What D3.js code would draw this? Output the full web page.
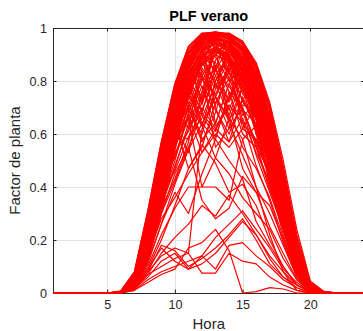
<!DOCTYPE html>
<html>
<head>
<meta charset="utf-8">
<script src="https://cdn.jsdelivr.net/npm/d3@7"></script>
<style>
  html, body { margin: 0; padding: 0; background: #fff; }
  svg { display: block; font-family: "Liberation Sans", Arial, Helvetica, sans-serif; }
</style>
</head>
<body>
<svg id="chart" width="363" height="331"></svg>
<script>
// Hours of the day (x categories)
const hours = [1,2,3,4,5,6,7,8,9,10,11,12,13,14,15,16,17,18,19,20,21,22,23,24];

// Tick values
const xTicks = [5, 10, 15, 20];
const yTicks = [0, 0.2, 0.4, 0.6, 0.8, 1];

// Daily plant-factor profiles, clear days
const clearDays = [
  [0,0,0,0,0,0.005,0.07,0.30,0.56,0.78,0.92,0.98,0.985,0.975,0.94,0.85,0.69,0.45,0.18,0.03,0.004,0,0,0],
  [0,0,0,0,0,0.004,0.065,0.28,0.54,0.77,0.91,0.975,0.985,0.97,0.93,0.83,0.67,0.43,0.16,0.025,0.003,0,0,0],
  [0,0,0,0,0,0.003,0.06,0.27,0.53,0.76,0.90,0.97,0.98,0.965,0.92,0.82,0.65,0.41,0.15,0.02,0.002,0,0,0],
  [0,0,0,0,0,0.003,0.055,0.26,0.52,0.75,0.90,0.965,0.98,0.96,0.91,0.81,0.64,0.40,0.14,0.02,0,0,0,0],
  [0,0,0,0,0,0.002,0.05,0.25,0.50,0.74,0.89,0.96,0.975,0.955,0.90,0.80,0.62,0.38,0.13,0.018,0,0,0,0],
  [0,0,0,0,0,0.002,0.05,0.24,0.49,0.73,0.88,0.955,0.97,0.95,0.89,0.78,0.61,0.37,0.13,0.016,0,0,0,0],
  [0,0,0,0,0,0,0.045,0.23,0.48,0.72,0.87,0.95,0.965,0.945,0.88,0.77,0.59,0.36,0.12,0.015,0,0,0,0],
  [0,0,0,0,0,0,0.045,0.22,0.47,0.70,0.86,0.94,0.96,0.94,0.87,0.76,0.58,0.35,0.12,0.014,0,0,0,0],
  [0,0,0,0,0,0,0.04,0.21,0.45,0.69,0.85,0.935,0.955,0.93,0.86,0.74,0.56,0.33,0.11,0.013,0,0,0,0],
  [0,0,0,0,0,0,0.04,0.20,0.44,0.68,0.84,0.93,0.95,0.925,0.85,0.73,0.55,0.32,0.10,0.012,0,0,0,0],
  [0,0,0,0,0,0,0.038,0.19,0.43,0.66,0.83,0.92,0.945,0.92,0.84,0.72,0.54,0.31,0.10,0.011,0,0,0,0],
  [0,0,0,0,0,0,0.035,0.18,0.41,0.65,0.82,0.91,0.94,0.91,0.83,0.70,0.52,0.30,0.09,0.01,0,0,0,0],
  [0,0,0,0,0,0,0.033,0.17,0.40,0.63,0.80,0.90,0.93,0.90,0.82,0.69,0.50,0.29,0.09,0.01,0,0,0,0],
  [0,0,0,0,0,0,0.03,0.16,0.38,0.61,0.79,0.89,0.92,0.89,0.81,0.67,0.48,0.27,0.08,0.008,0,0,0,0],
  [0,0,0,0,0,0,0.028,0.15,0.36,0.59,0.77,0.88,0.91,0.88,0.79,0.65,0.46,0.25,0.075,0.007,0,0,0,0],
  [0,0,0,0,0,0,0.025,0.14,0.35,0.57,0.75,0.86,0.90,0.87,0.78,0.63,0.44,0.24,0.07,0.006,0,0,0,0],
  [0,0,0,0,0,0,0.02,0.13,0.34,0.58,0.78,0.90,0.97,0.98,0.95,0.86,0.69,0.46,0.19,0.035,0.005,0,0,0],
  [0,0,0,0,0,0,0.025,0.15,0.37,0.61,0.80,0.92,0.975,0.98,0.94,0.84,0.67,0.44,0.17,0.03,0.004,0,0,0],
  [0,0,0,0,0,0.006,0.075,0.31,0.57,0.79,0.93,0.98,0.97,0.93,0.86,0.72,0.53,0.30,0.10,0.012,0,0,0,0],
  [0,0,0,0,0,0.005,0.07,0.29,0.55,0.77,0.91,0.97,0.96,0.92,0.84,0.70,0.51,0.28,0.09,0.01,0,0,0,0],
  [0,0,0,0,0,0.004,0.062,0.275,0.535,0.765,0.905,0.972,0.982,0.968,0.925,0.825,0.655,0.415,0.155,0.022,0.002,0,0,0],
  [0,0,0,0,0,0.001,0.048,0.235,0.485,0.725,0.875,0.952,0.968,0.948,0.885,0.775,0.60,0.365,0.125,0.016,0,0,0,0],
  [0,0,0,0,0,0,0.042,0.215,0.46,0.705,0.865,0.945,0.962,0.94,0.87,0.755,0.575,0.345,0.115,0.014,0,0,0,0],
  [0,0,0,0,0,0,0.036,0.185,0.42,0.655,0.825,0.915,0.942,0.915,0.835,0.705,0.525,0.305,0.095,0.01,0,0,0,0],
  [0,0,0,0,0,0,0.032,0.165,0.39,0.62,0.795,0.895,0.925,0.895,0.815,0.68,0.49,0.28,0.085,0.009,0,0,0,0],
  [0,0,0,0,0,0,0.022,0.125,0.32,0.55,0.74,0.86,0.93,0.95,0.92,0.82,0.65,0.42,0.16,0.025,0.003,0,0,0],
  [0,0,0,0,0,0.003,0.058,0.26,0.51,0.74,0.885,0.955,0.965,0.94,0.87,0.75,0.56,0.33,0.11,0.012,0,0,0,0],
  [0,0,0,0,0,0,0.04,0.20,0.45,0.69,0.85,0.94,0.97,0.965,0.91,0.80,0.62,0.39,0.14,0.02,0,0,0,0],
  [0,0,0,0,0,0,0.03,0.17,0.40,0.64,0.81,0.92,0.96,0.94,0.88,0.76,0.57,0.35,0.12,0.015,0,0,0,0],
  [0,0,0,0,0,0.002,0.052,0.245,0.50,0.735,0.88,0.955,0.975,0.96,0.915,0.81,0.635,0.395,0.14,0.019,0,0,0,0],
  [0,0,0,0,0,0,0.027,0.145,0.355,0.585,0.765,0.875,0.915,0.89,0.81,0.675,0.485,0.265,0.08,0.008,0,0,0,0],
  [0,0,0,0,0,0,0.024,0.13,0.33,0.56,0.745,0.865,0.91,0.885,0.80,0.66,0.47,0.255,0.075,0.007,0,0,0,0],
  [0,0,0,0,0,0.008,0.08,0.31,0.57,0.79,0.93,0.98,0.985,0.98,0.95,0.87,0.72,0.50,0.24,0.045,0.006,0,0,0],
  [0,0,0,0,0,0.006,0.075,0.30,0.56,0.78,0.92,0.975,0.985,0.975,0.945,0.86,0.71,0.48,0.22,0.04,0.005,0,0,0],
  [0,0,0,0,0,0.003,0.06,0.27,0.53,0.76,0.90,0.97,0.98,0.975,0.94,0.86,0.70,0.47,0.21,0.038,0.004,0,0,0],
  [0,0,0,0,0,0.002,0.05,0.24,0.49,0.73,0.88,0.96,0.98,0.97,0.93,0.85,0.69,0.46,0.20,0.035,0.004,0,0,0]
];

// Partly cloudy days
const partlyCloudyDays = [
  [0,0,0,0,0,0.003,0.06,0.27,0.52,0.74,0.88,0.72,0.93,0.95,0.78,0.82,0.63,0.40,0.14,0.02,0,0,0,0],
  [0,0,0,0,0,0,0.05,0.24,0.49,0.70,0.62,0.88,0.80,0.91,0.87,0.70,0.58,0.36,0.12,0.015,0,0,0,0],
  [0,0,0,0,0,0,0.045,0.22,0.46,0.58,0.80,0.68,0.85,0.72,0.84,0.74,0.55,0.33,0.11,0.013,0,0,0,0],
  [0,0,0,0,0,0,0.04,0.21,0.44,0.66,0.75,0.90,0.64,0.79,0.88,0.60,0.52,0.31,0.10,0.012,0,0,0,0],
  [0,0,0,0,0,0,0.04,0.19,0.42,0.63,0.53,0.76,0.92,0.66,0.71,0.69,0.49,0.29,0.09,0.01,0,0,0,0],
  [0,0,0,0,0,0,0.035,0.18,0.40,0.55,0.70,0.57,0.68,0.87,0.62,0.58,0.45,0.27,0.09,0.01,0,0,0,0],
  [0,0,0,0,0,0,0.03,0.17,0.39,0.61,0.79,0.83,0.55,0.62,0.78,0.66,0.41,0.22,0.07,0.008,0,0,0,0],
  [0,0,0,0,0,0.002,0.05,0.25,0.48,0.64,0.47,0.55,0.72,0.81,0.69,0.52,0.38,0.24,0.08,0.01,0,0,0,0],
  [0,0,0,0,0,0,0.03,0.16,0.37,0.52,0.66,0.40,0.40,0.35,0.58,0.63,0.47,0.26,0.08,0.008,0,0,0,0],
  [0,0,0,0,0,0,0.04,0.20,0.43,0.67,0.84,0.78,0.63,0.70,0.55,0.47,0.36,0.21,0.07,0.008,0,0,0,0],
  [0,0,0,0,0,0,0.025,0.14,0.33,0.48,0.62,0.74,0.86,0.64,0.52,0.40,0.30,0.18,0.06,0.006,0,0,0,0],
  [0,0,0,0,0,0,0.03,0.15,0.32,0.43,0.57,0.85,0.77,0.94,0.80,0.72,0.56,0.34,0.12,0.015,0,0,0,0],
  [0,0,0,0,0,0.002,0.055,0.26,0.50,0.72,0.86,0.93,0.70,0.57,0.74,0.63,0.43,0.28,0.10,0.012,0,0,0,0],
  [0,0,0,0,0,0,0.035,0.18,0.38,0.46,0.59,0.66,0.79,0.73,0.88,0.79,0.60,0.38,0.14,0.02,0,0,0,0],
  [0,0,0,0,0,0,0.02,0.12,0.30,0.54,0.71,0.63,0.51,0.66,0.47,0.38,0.33,0.20,0.06,0.005,0,0,0,0],
  [0,0,0,0,0,0,0.03,0.16,0.36,0.60,0.76,0.89,0.95,0.84,0.65,0.48,0.35,0.19,0.06,0.006,0,0,0,0],
  [0,0,0,0,0,0,0.02,0.11,0.26,0.41,0.54,0.64,0.58,0.76,0.69,0.57,0.44,0.30,0.10,0.01,0,0,0,0],
  [0,0,0,0,0,0,0.035,0.17,0.34,0.50,0.68,0.82,0.90,0.96,0.91,0.77,0.54,0.32,0.11,0.012,0,0,0,0],
  [0,0,0,0,0,0,0.03,0.14,0.28,0.36,0.45,0.53,0.62,0.57,0.66,0.53,0.42,0.25,0.08,0.008,0,0,0,0],
  [0,0,0,0,0,0.003,0.06,0.27,0.53,0.75,0.90,0.96,0.85,0.97,0.93,0.83,0.65,0.41,0.15,0.02,0,0,0,0],
  [0,0,0,0,0,0,0.045,0.22,0.47,0.70,0.86,0.73,0.96,0.94,0.90,0.79,0.60,0.37,0.13,0.016,0,0,0,0],
  [0,0,0,0,0,0,0.04,0.20,0.44,0.67,0.82,0.92,0.94,0.81,0.89,0.77,0.50,0.34,0.11,0.013,0,0,0,0],
  [0,0,0,0,0,0,0.035,0.18,0.41,0.64,0.77,0.69,0.82,0.90,0.75,0.71,0.53,0.30,0.10,0.011,0,0,0,0],
  [0,0,0,0,0,0,0.03,0.16,0.37,0.60,0.71,0.84,0.74,0.62,0.70,0.56,0.40,0.24,0.08,0.008,0,0,0,0],
  [0,0,0,0,0,0.002,0.05,0.24,0.50,0.72,0.86,0.91,0.78,0.88,0.72,0.66,0.50,0.33,0.12,0.015,0,0,0,0],
  [0,0,0,0,0,0,0.04,0.21,0.45,0.69,0.77,0.86,0.93,0.87,0.76,0.74,0.57,0.36,0.13,0.017,0,0,0,0],
  [0,0,0,0,0,0,0.035,0.19,0.43,0.62,0.85,0.94,0.82,0.69,0.83,0.70,0.48,0.30,0.10,0.012,0,0,0,0],
  [0,0,0,0,0,0,0.045,0.23,0.48,0.71,0.81,0.71,0.88,0.92,0.84,0.61,0.44,0.29,0.10,0.012,0,0,0,0],
  [0,0,0,0,0,0,0.03,0.17,0.39,0.60,0.73,0.88,0.96,0.90,0.67,0.71,0.60,0.39,0.14,0.02,0,0,0,0],
  [0,0,0,0,0,0,0.04,0.20,0.42,0.56,0.66,0.78,0.71,0.84,0.91,0.83,0.65,0.42,0.16,0.025,0.002,0,0,0],
  [0,0,0,0,0,0.002,0.055,0.26,0.51,0.73,0.89,0.82,0.75,0.86,0.80,0.77,0.62,0.40,0.15,0.02,0,0,0,0],
  [0,0,0,0,0,0,0.035,0.18,0.40,0.63,0.69,0.60,0.77,0.83,0.73,0.62,0.51,0.32,0.11,0.013,0,0,0,0],
  [0,0,0,0,0,0,0.03,0.16,0.37,0.58,0.74,0.67,0.59,0.74,0.86,0.76,0.58,0.37,0.13,0.017,0,0,0,0],
  [0,0,0,0,0,0,0.045,0.22,0.46,0.69,0.83,0.90,0.87,0.76,0.60,0.55,0.46,0.30,0.10,0.012,0,0,0,0],
  [0,0,0,0,0,0,0.04,0.20,0.44,0.65,0.79,0.64,0.74,0.65,0.78,0.68,0.53,0.34,0.12,0.015,0,0,0,0],
  [0,0,0,0,0,0,0.03,0.15,0.35,0.53,0.61,0.72,0.84,0.78,0.69,0.64,0.49,0.28,0.09,0.01,0,0,0,0],
  [0,0,0,0,0,0.002,0.05,0.25,0.49,0.71,0.84,0.95,0.89,0.80,0.85,0.73,0.56,0.35,0.12,0.015,0,0,0,0],
  [0,0,0,0,0,0,0.04,0.20,0.43,0.51,0.68,0.80,0.90,0.95,0.88,0.80,0.63,0.41,0.15,0.022,0.002,0,0,0],
  [0,0,0,0,0,0,0.035,0.18,0.41,0.64,0.72,0.58,0.64,0.79,0.70,0.55,0.39,0.26,0.09,0.01,0,0,0,0],
  [0,0,0,0,0,0,0.03,0.16,0.38,0.62,0.80,0.90,0.84,0.93,0.87,0.68,0.52,0.33,0.12,0.015,0,0,0,0],
  [0,0,0,0,0,0,0.025,0.14,0.33,0.47,0.64,0.76,0.69,0.60,0.73,0.79,0.61,0.38,0.14,0.02,0,0,0,0],
  [0,0,0,0,0,0,0.045,0.22,0.47,0.70,0.76,0.63,0.80,0.89,0.93,0.85,0.66,0.43,0.17,0.028,0.003,0,0,0],
  [0,0,0,0,0,0,0.04,0.19,0.41,0.60,0.58,0.70,0.62,0.71,0.64,0.58,0.46,0.31,0.10,0.012,0,0,0,0],
  [0,0,0,0,0,0,0.035,0.17,0.36,0.55,0.70,0.81,0.74,0.85,0.77,0.60,0.42,0.24,0.08,0.009,0,0,0,0],
  [0,0,0,0,0,0,0.03,0.15,0.34,0.57,0.67,0.53,0.60,0.55,0.62,0.71,0.55,0.35,0.12,0.015,0,0,0,0],
  [0,0,0,0,0,0.003,0.06,0.27,0.52,0.75,0.90,0.97,0.93,0.83,0.78,0.67,0.49,0.31,0.11,0.013,0,0,0,0],
  [0,0,0,0,0,0,0.04,0.20,0.44,0.66,0.78,0.87,0.79,0.67,0.81,0.74,0.62,0.39,0.15,0.022,0,0,0,0],
  [0,0,0,0,0,0,0.025,0.13,0.30,0.45,0.55,0.68,0.61,0.74,0.82,0.71,0.50,0.30,0.10,0.012,0,0,0,0]
];

// Overcast days
const overcastDays = [
  [0,0,0,0,0,0,0.015,0.08,0.18,0.16,0.10,0.13,0.17,0.22,0.28,0.20,0.11,0.06,0.03,0.005,0,0,0,0],
  [0,0,0,0,0,0,0.02,0.07,0.10,0.13,0.15,0.075,0.075,0.15,0.12,0.11,0.06,0.03,0.01,0,0,0,0,0],
  [0,0,0,0,0,0,0.01,0.05,0.08,0.10,0.12,0.14,0.09,0.18,0.19,0.14,0.10,0.05,0.02,0,0,0,0,0],
  [0,0,0,0,0,0,0.01,0.04,0.07,0.09,0.17,0.19,0.24,0.16,0,0.005,0.02,0.015,0,0,0,0,0,0],
  [0,0,0,0,0,0,0.02,0.09,0.17,0.12,0.09,0.11,0.15,0.21,0.27,0.22,0.14,0.08,0.03,0.004,0,0,0,0],
  [0,0,0,0,0,0,0.015,0.06,0.12,0.15,0.09,0.14,0.21,0.26,0.31,0.24,0.17,0.09,0.04,0.005,0,0,0,0],
  [0,0,0,0,0,0,0.02,0.10,0.22,0.32,0.40,0.40,0.51,0.45,0.36,0.30,0.24,0.13,0.05,0.006,0,0,0,0],
  [0,0,0,0,0,0,0.03,0.14,0.30,0.42,0.55,0.35,0.28,0.32,0.44,0.38,0.25,0.15,0.05,0.005,0,0,0,0],
  [0,0,0,0,0,0,0.02,0.08,0.14,0.17,0.15,0.62,0.74,0.66,0.58,0.40,0.22,0.08,0.01,0,0,0,0,0],
  [0,0,0,0,0,0,0.02,0.09,0.20,0.33,0.47,0.56,0.49,0.38,0.41,0.33,0.20,0.10,0.03,0.003,0,0,0,0],
  [0,0,0,0,0,0,0.015,0.07,0.15,0.21,0.26,0.33,0.29,0.37,0.30,0.22,0.13,0.06,0.02,0,0,0,0,0],
  [0,0,0,0,0,0,0.025,0.12,0.26,0.38,0.30,0.45,0.58,0.50,0.43,0.27,0.18,0.10,0.03,0.004,0,0,0,0]
];

const days = [...clearDays, ...partlyCloudyDays, ...overcastDays];

const svg = d3.select("#chart");
const plotLeft = 53, plotRight = 364.5, plotTop = 28, plotBottom = 293;
const axisColor = "#262626";
const gridColor = "#e3e3e3";

const x = d3.scaleLinear().domain([1, 24]).range([plotLeft, plotRight]);
const y = d3.scaleLinear().domain([0, 1]).range([plotBottom, plotTop]);

// Grid
const grid = svg.append("g");
grid.selectAll(".gx").data(xTicks).join("line")
  .attr("x1", d => Math.round(x(d)) + 0.5).attr("x2", d => Math.round(x(d)) + 0.5)
  .attr("y1", plotTop).attr("y2", plotBottom)
  .attr("stroke", gridColor).attr("stroke-width", 1);
grid.selectAll(".gy").data(yTicks.slice(1, -1)).join("line")
  .attr("x1", plotLeft).attr("x2", plotRight)
  .attr("y1", d => Math.round(y(d)) + 0.5).attr("y2", d => Math.round(y(d)) + 0.5)
  .attr("stroke", gridColor).attr("stroke-width", 1);

// Box (top and right) with inward ticks
const box = svg.append("g").attr("stroke", axisColor).attr("stroke-width", 1);
box.append("line").attr("x1", plotLeft).attr("x2", plotRight).attr("y1", plotTop + 0.5).attr("y2", plotTop + 0.5);
box.append("line").attr("x1", plotRight - 0.5).attr("x2", plotRight - 0.5).attr("y1", plotTop).attr("y2", plotBottom);
box.selectAll(".tt").data(xTicks).join("line")
  .attr("x1", d => Math.round(x(d)) + 0.5).attr("x2", d => Math.round(x(d)) + 0.5)
  .attr("y1", plotTop).attr("y2", plotTop + 3.5);
box.selectAll(".tr").data(yTicks).join("line")
  .attr("x1", plotRight - 3.5).attr("x2", plotRight)
  .attr("y1", d => Math.round(y(d)) + 0.5).attr("y2", d => Math.round(y(d)) + 0.5);

// Axes
const xAxis = svg.append("g").attr("transform", `translate(0,${plotBottom})`)
  .call(d3.axisBottom(x).tickValues(xTicks).tickSize(-3.5).tickSizeOuter(0).tickPadding(7).tickFormat(d3.format("d")));
const yAxis = svg.append("g").attr("transform", `translate(${plotLeft},0)`)
  .call(d3.axisLeft(y).tickValues(yTicks).tickSize(-3.5).tickSizeOuter(0).tickPadding(6).tickFormat(d => d === 0 || d === 1 ? String(d) : d3.format(".1f")(d)));

[xAxis, yAxis].forEach(g => {
  g.select(".domain").attr("stroke", axisColor).attr("stroke-width", 1);
  g.selectAll(".tick line").attr("stroke", axisColor);
  g.selectAll(".tick text").attr("fill", axisColor)
    .style("font-size", "12.6px").style("font-family", "Liberation Sans, Arial, sans-serif");
});

// Daily curves
const line = d3.line().x((d, i) => x(hours[i])).y(d => y(d));
svg.append("g").selectAll("path").data(days).join("path")
  .attr("d", line)
  .attr("fill", "none")
  .attr("stroke", "#ff0000")
  .attr("stroke-width", 1.2)
  .attr("stroke-linejoin", "round");

// Titles
svg.append("text").attr("x", (plotLeft + plotRight) / 2).attr("y", 20.5)
  .attr("text-anchor", "middle").attr("font-weight", "bold")
  .attr("font-size", "14.5px").attr("fill", "#000").text("PLF verano");
svg.append("text").attr("x", (plotLeft + plotRight) / 2).attr("y", 328.5)
  .attr("text-anchor", "middle").attr("font-size", "15px").attr("fill", axisColor).text("Hora");
svg.append("text").attr("transform", `translate(20,${(plotTop + plotBottom) / 2}) rotate(-90)`)
  .attr("text-anchor", "middle").attr("font-size", "15px").attr("fill", axisColor).text("Factor de planta");
</script>
</body>
</html>
